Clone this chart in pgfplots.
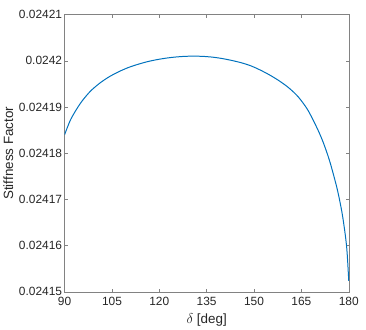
\documentclass[border=0pt]{standalone}
\usepackage{fontspec}
\setmainfont{Liberation Sans}
\usepackage{pgfplots}
\pgfplotsset{compat=1.18}
\usetikzlibrary{calc}
\definecolor{MatBlue}{RGB}{0,114,189}
\definecolor{TxtGray}{RGB}{38,38,38}
\definecolor{AxGray}{RGB}{130,130,130}

\begin{document}
\begin{tikzpicture}
\begin{axis}[
    name=main,
    scale only axis,
    width=285bp,
    height=278bp,
    xmin=90, xmax=180,
    % values are shifted by 0.02415 and scaled by 1e5 to keep precision
    ymin=0, ymax=6,
    xtick={90,105,120,135,150,165,180},
    ytick={0,1,2,3,4,5,6},
    yticklabels={0.02415,0.02416,0.02417,0.02418,0.02419,0.0242,0.02421},
    tick align=inside,
    major tick length=3bp,
    axis line style={AxGray, line width=0.5pt},
    every tick/.style={AxGray, line width=0.5pt},
    tick label style={font=\fontsize{12}{14}\selectfont, text=TxtGray},
    /pgf/number format/assume math mode=true,
    xticklabel style={yshift=-1.5bp},
    yticklabel style={xshift=1bp},
    xlabel={$\delta$ [deg]},
    ylabel={Stiffness Factor},
    label style={font=\fontsize{13.5}{15}\selectfont, text=TxtGray},
    xlabel style={yshift=-1.5bp},
    ylabel style={yshift=-1bp},
]
\addplot[MatBlue, line width=1pt, smooth, tension=0.5,
    y filter/.expression={(y-0.02415)*100000}] coordinates {
    (90,0.02418400) (92,0.02418740) (95,0.02419080) (98,0.02419330)
    (101,0.02419510) (104,0.02419650) (107,0.02419760) (110,0.02419850)
    (113,0.02419920) (116,0.02419978) (119,0.02420023) (122,0.02420057)
    (125,0.02420082) (128,0.02420097) (131,0.02420102) (134,0.02420096)
    (137,0.02420079) (140,0.02420049) (143,0.02420008) (146,0.02419958)
    (149,0.02419892) (152,0.02419800) (155,0.02419692) (158,0.02419566)
    (161,0.02419416) (164,0.02419220) (167,0.02418940) (170,0.02418540)
    (172,0.02418220) (174,0.02417820) (176,0.02417320) (177,0.02417020)
    (178,0.02416660) (179,0.02416180) (179.5,0.02415830) (180,0.02415240)
};
\end{axis}
\path[use as bounding box] ($(main.south west)+(-64bp,-37.3bp)$) rectangle ($(main.north east)+(17.3bp,14.7bp)$);
\end{tikzpicture}
\end{document}
